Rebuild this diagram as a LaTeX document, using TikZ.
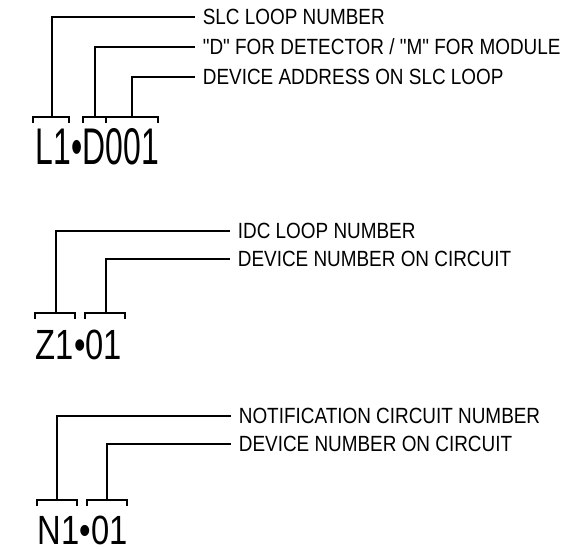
\documentclass[tikz,border=0pt]{standalone}
\usepackage{fontspec}
\newfontfamily\lblfont{Liberation Sans}[FakeStretch=0.86]
\newfontfamily\bigfont{Liberation Sans}
\begin{document}
\begin{tikzpicture}[x=1bp,y=-1bp,line width=1.7bp,
  lbl/.style={anchor=west,inner xsep=7bp,inner ysep=0pt,text height=15.8bp,text depth=0pt,
    font=\lblfont\fontsize{22bp}{25bp}\selectfont},
  code/.style={anchor=south west,inner sep=0pt},
  brk/.style={line cap=butt,line join=miter}]
\useasboundingbox (0,0) rectangle (580,550);
% ---------- group 1 ----------
\node[lbl] (slc) at (195,17) {SLC LOOP NUMBER};
\node[lbl] (dm) at (195,47) {"D" FOR DETECTOR / "M" FOR MODULE};
\node[lbl] (addr) at (195,77) {DEVICE ADDRESS ON SLC LOOP};
\node[code] (c1) at (35,165.5) {\resizebox{123bp}{36bp}{\bigfont L1•D001}};
\coordinate (b1) at (51.7,117);
\coordinate (b2) at (95,117);
\coordinate (b3) at (132.3,117);
\draw[brk] (33.3,123) |- (69.3,117) -- (69.3,123);
\draw[brk] (83.3,123) |- (157.7,117) -- (157.7,123);
\draw[brk] (106,117) -- (106,123);
\draw (b1) |- (slc.west);
\draw (b2) |- (dm.west);
\draw (b3) |- (addr.west);
% ---------- group 2 ----------
\node[lbl] (idc) at (230,231) {IDC LOOP NUMBER};
\node[lbl] (dn2) at (230,259) {DEVICE NUMBER ON CIRCUIT};
\node[code] (c2) at (35,360.5) {\resizebox{86bp}{29.5bp}{\bigfont Z1•01}};
\coordinate (z1) at (55.7,313);
\coordinate (z2) at (105.7,313);
\draw[brk] (35,319) |- (75,313) -- (75,319);
\draw[brk] (85,319) |- (125,313) -- (125,319);
\draw (z1) |- (idc.west);
\draw (z2) |- (dn2.west);
% ---------- group 3 ----------
\node[lbl] (nac) at (231,416) {NOTIFICATION CIRCUIT NUMBER};
\node[lbl] (dn3) at (231,444) {DEVICE NUMBER ON CIRCUIT};
\node[code] (c3) at (37,545.5) {\resizebox{89.7bp}{28.5bp}{\bigfont N1•01}};
\coordinate (n1) at (57,500);
\coordinate (n2) at (107,500);
\draw[brk] (36.7,506) |- (77.3,500) -- (77.3,506);
\draw[brk] (86.7,506) |- (127,500) -- (127,506);
\draw (n1) |- (nac.west);
\draw (n2) |- (dn3.west);
\end{tikzpicture}
\end{document}
